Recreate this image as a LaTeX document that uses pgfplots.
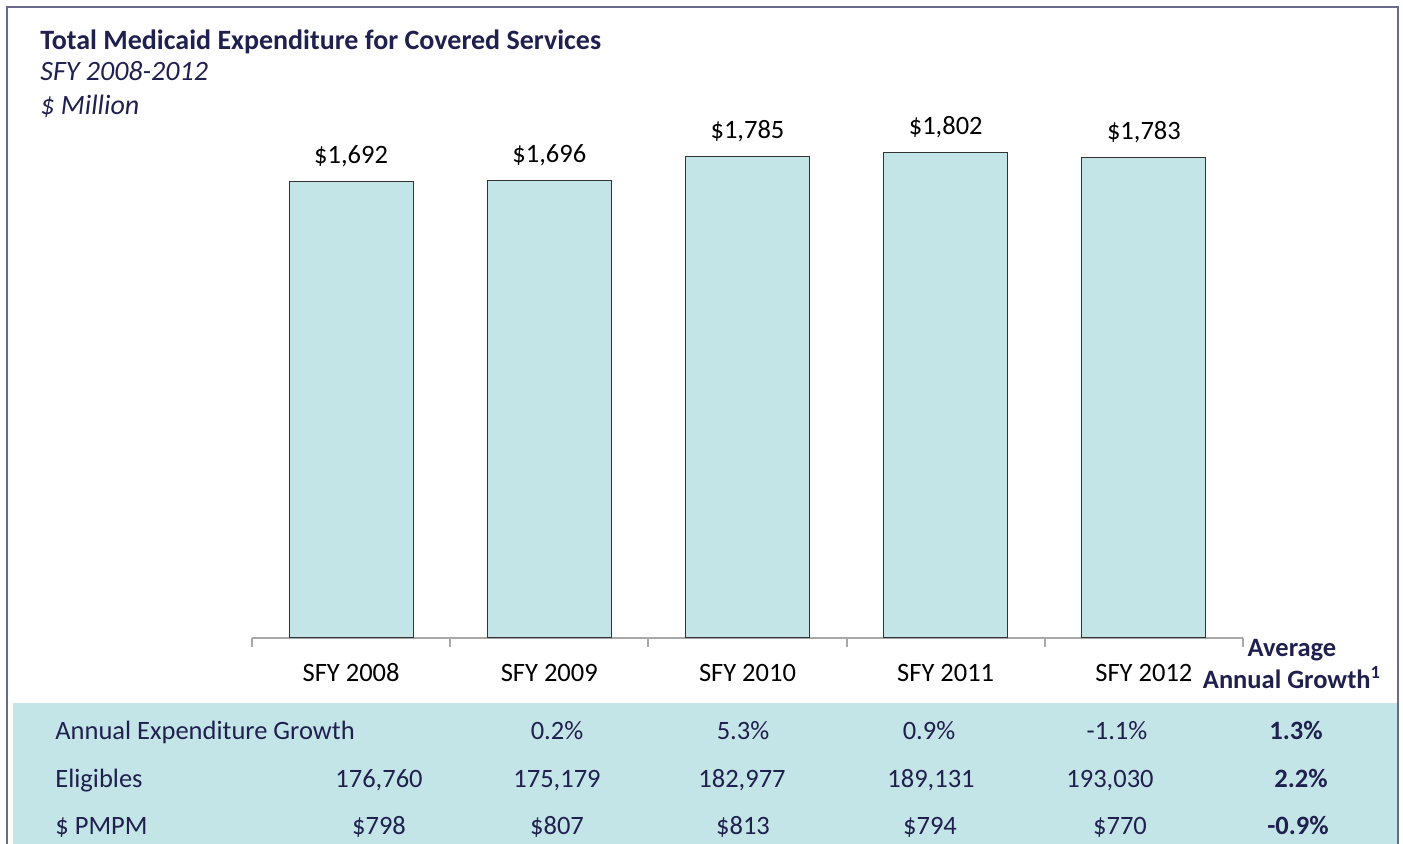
\documentclass[border=0pt]{standalone}
\usepackage{pgfplots}
\pgfplotsset{compat=1.18}
\usepackage{fontspec}
\setmainfont{Carlito}
\definecolor{tealfill}{HTML}{C4E5E8}
\definecolor{navy}{HTML}{20204E}
\definecolor{framec}{HTML}{6A6A8E}
\definecolor{tickc}{HTML}{A8A8A8}
\newcommand{\bodyfont}{\fontsize{13.25}{16}\selectfont}
\begin{document}
\begin{tikzpicture}[x=1pt,y=1pt]
\useasboundingbox (0,0) rectangle (701.5,422);
% table background
\fill[tealfill] (6.5,0) rectangle (699,70.5);
% frame
\draw[framec, line width=1pt] (3.5,-2) -- (3.5,418.5) -- (699,418.5) -- (699,-2);
% titles
\node[anchor=base west, inner sep=0, text=navy, font=\fontsize{14}{17}\selectfont\bfseries] at (20,397) {Total Medicaid Expenditure for Covered Services};
\node[anchor=base west, inner sep=0, text=navy, font=\fontsize{14}{17}\selectfont\itshape] at (20,381.5) {SFY 2008-2012};
\node[anchor=base west, inner sep=0, text=navy, font=\fontsize{14}{17}\selectfont\itshape] at (20,364.5) {\$ Million};
\begin{axis}[
  at={(126pt,103pt)}, anchor=south west,
  scale only axis, width=495.5pt, height=269.5pt,
  xmin=0.5, xmax=5.5, ymin=0, ymax=2000,
  hide y axis,
  axis x line*=bottom,
  axis line style={tickc, line width=1pt, -},
  xtick={1,2,3,4,5},
  xticklabels={SFY 2008,SFY 2009,SFY 2010,SFY 2011,SFY 2012},
  major tick length=0pt,
  minor xtick={0.5,1.5,2.5,3.5,4.5,5.5},
  minor tick length=4.5pt,
  tick align=outside,
  minor tick style={tickc, line width=1pt},
  xticklabel style={font=\bodyfont, anchor=base, yshift=-22pt, text=black},
  ybar, bar width=62pt,
  nodes near coords={\$\pgfmathprintnumber[assume math mode=true,1000 sep={,}]{\pgfplotspointmeta}},
  every node near coord/.append style={font=\bodyfont, anchor=base, yshift=9pt, text=black, inner sep=0pt},
  clip=false,
]
\addplot[fill=tealfill, draw=black!80, line width=0.5pt] coordinates {(1,1692) (2,1696) (3,1785) (4,1802) (5,1783)};
\end{axis}
% average annual growth header
\node[anchor=base, inner sep=0, text=navy, font=\bodyfont\bfseries] at (646,93.5) {Average};
\node[anchor=base, inner sep=0, text=navy, font=\bodyfont\bfseries] at (646,77.5) {Annual Growth\textsuperscript{1}};
% table
\begin{scope}[every node/.style={anchor=base, inner sep=0, text=navy, font=\bodyfont}]
\node[anchor=base west] at (27.5,52) {Annual Expenditure Growth};
\node[anchor=base west] at (27.5,28) {Eligibles};
\node[anchor=base west] at (27.5,4.5) {\$ PMPM};
% row 1
\node at (278.5,52) {0.2\%};
\node at (371.5,52) {5.3\%};
\node at (464.5,52) {0.9\%};
\node at (558.5,52) {-1.1\%};
\node[font=\bodyfont\bfseries] at (648,52) {1.3\%};
% row 2
\node at (189.5,28) {176,760};
\node at (278.5,28) {175,179};
\node at (371,28) {182,977};
\node at (465.5,28) {189,131};
\node at (555,28) {193,030};
\node[font=\bodyfont\bfseries] at (650.5,28) {2.2\%};
% row 3
\node at (189.5,4.5) {\$798};
\node at (278.5,4.5) {\$807};
\node at (371.5,4.5) {\$813};
\node at (465,4.5) {\$794};
\node at (560,4.5) {\$770};
\node[font=\bodyfont\bfseries] at (649,4.5) {-0.9\%};
\end{scope}
\end{tikzpicture}
\end{document}
